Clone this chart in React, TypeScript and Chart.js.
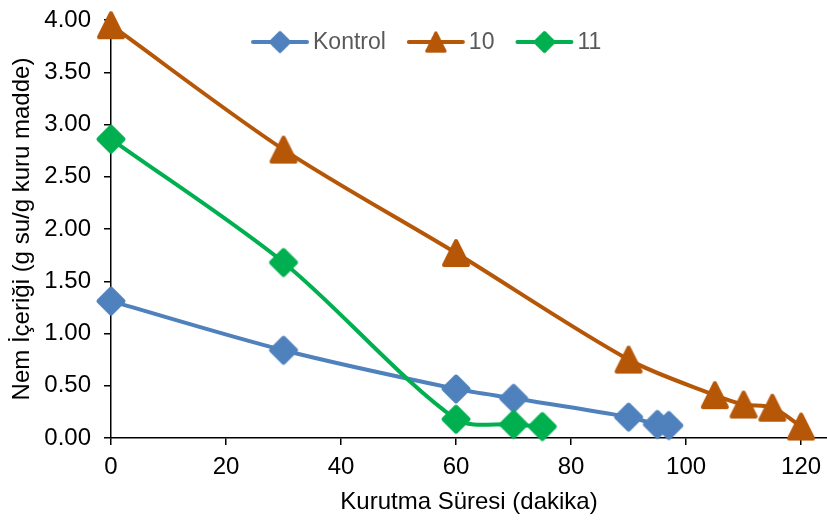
import React, { useEffect, useRef } from 'react';
import { Chart, registerables } from 'chart.js';

Chart.register(...registerables);

// ---- data ----
const kontrolX = [0, 30, 60, 70, 90, 95, 97];
const kontrolY = [1.31, 0.84, 0.47, 0.38, 0.2, 0.13, 0.12];
const s10X = [0, 30, 60, 90, 105, 110, 115, 120];
const s10Y = [3.95, 2.76, 1.77, 0.75, 0.41, 0.32, 0.29, 0.11];
const s11X = [0, 30, 60, 70, 75];
const s11Y = [2.86, 1.68, 0.18, 0.13, 0.11];
const seriesNames = ['Kontrol', '10', '11'];
const xTickValues = [0, 20, 40, 60, 80, 100, 120];
const yTickValues = [0, 0.5, 1, 1.5, 2, 2.5, 3, 3.5, 4];
const xTitle = 'Kurutma Süresi (dakika)';
const yTitle = 'Nem İçeriği (g su/g kuru madde)';

const COLORS = ['#4F81BD', '#B65708', '#00B050'];
const SHAPES = ['diamond', 'triangle', 'diamond'];
const FONT = "'Liberation Sans', Arial, sans-serif";

function makeMarker(shape: string, color: string): HTMLCanvasElement {
  const c = document.createElement('canvas');
  c.width = 32;
  c.height = 32;
  const ctx = c.getContext('2d')!;
  ctx.fillStyle = color;
  ctx.strokeStyle = color;
  ctx.lineWidth = 4;
  ctx.lineJoin = 'round';
  ctx.beginPath();
  if (shape === 'diamond') {
    ctx.moveTo(16, 3.5);
    ctx.lineTo(28.5, 16);
    ctx.lineTo(16, 28.5);
    ctx.lineTo(3.5, 16);
  } else {
    ctx.moveTo(16, 4);
    ctx.lineTo(28, 28);
    ctx.lineTo(4, 28);
  }
  ctx.closePath();
  ctx.fill();
  ctx.stroke();
  return c;
}

function toPoints(xs: number[], ys: number[]) {
  return xs.map((x, i) => ({ x, y: ys[i] }));
}

export default function App() {
  const ref = useRef<HTMLCanvasElement | null>(null);

  useEffect(() => {
    if (!ref.current) return;
    const markers = SHAPES.map((s, i) => makeMarker(s, COLORS[i]));
    const allData = [
      toPoints(kontrolX, kontrolY),
      toPoints(s10X, s10Y),
      toPoints(s11X, s11Y),
    ];

    const legendPlugin = {
      id: 'customLegend',
      afterDraw(chart: any) {
        const ctx = chart.ctx;
        const area = chart.chartArea;
        const y = area.top + 22;
        let x = area.left + 142;
        ctx.save();
        ctx.font = `23px ${FONT}`;
        ctx.textBaseline = 'middle';
        ctx.textAlign = 'left';
        seriesNames.forEach((name, i) => {
          ctx.strokeStyle = COLORS[i];
          ctx.lineWidth = 4;
          ctx.lineCap = 'round';
          ctx.beginPath();
          ctx.moveTo(x, y);
          ctx.lineTo(x + 54, y);
          ctx.stroke();
          const m = markers[i];
          const s = 0.76;
          ctx.drawImage(m, x + 27 - (m.width * s) / 2, y - (m.height * s) / 2, m.width * s, m.height * s);
          ctx.fillStyle = '#595959';
          ctx.fillText(name, x + 60, y + 1);
          x += 60 + ctx.measureText(name).width + 23;
        });
        ctx.restore();
      },
    };

    const chart = new Chart(ref.current, {
      type: 'line',
      data: {
        datasets: seriesNames.map((name, i) => ({
          label: name,
          data: allData[i],
          borderColor: COLORS[i],
          backgroundColor: COLORS[i],
          borderWidth: 4,
          tension: 0.3,
          pointStyle: markers[i] as any,
          pointRadius: 14,
          pointHoverRadius: 14,
          clip: false as any,
          order: 2 - i,
        })),
      },
      options: {
        animation: false,
        responsive: true,
        maintainAspectRatio: false,
        parsing: false as any,
        layout: { autoPadding: false, padding: { top: 20, right: 0, left: 0, bottom: 0 } },
        plugins: {
          legend: { display: false },
          tooltip: { enabled: false },
        },
        scales: {
          x: {
            type: 'linear',
            min: 0,
            max: 124.5,
            afterBuildTicks: (s: any) => {
              s.ticks = xTickValues.map((v) => ({ value: v }));
            },
            afterFit: (s: any) => {
              s.height = 83;
              s.paddingLeft = 0;
              s.paddingRight = 0;
            },
            grid: {
              drawOnChartArea: false,
              drawTicks: true,
              tickLength: 7,
              color: '#000',
              lineWidth: 1.5,
            },
            border: { color: '#000', width: 1.5 },
            ticks: {
              color: '#000',
              font: { family: FONT, size: 24 },
              padding: 8,
              maxRotation: 0,
              autoSkip: false,
            },
            title: {
              display: true,
              text: xTitle,
              color: '#000',
              font: { family: FONT, size: 24 },
              padding: { top: 0, bottom: 4 },
            },
          },
          y: {
            type: 'linear',
            min: 0,
            max: 4,
            afterBuildTicks: (s: any) => {
              s.ticks = yTickValues.map((v) => ({ value: v }));
            },
            afterFit: (s: any) => {
              s.width = 111;
              s.paddingTop = 0;
              s.paddingBottom = 0;
            },
            grid: {
              drawOnChartArea: false,
              drawTicks: true,
              tickLength: 7,
              color: '#000',
              lineWidth: 1.5,
            },
            border: { color: '#000', width: 1.5 },
            ticks: {
              color: '#000',
              font: { family: FONT, size: 24 },
              padding: 13,
              autoSkip: false,
              callback: (v: any) => Number(v).toFixed(2),
            },
            title: {
              display: true,
              text: yTitle,
              color: '#000',
              font: { family: FONT, size: 24 },
              padding: { top: 8, bottom: 0 },
            },
          },
        },
      },
      plugins: [legendPlugin],
    });

    return () => chart.destroy();
  }, []);

  return (
    <div style={{ position: 'fixed', left: 0, top: 0, width: 827, height: 521, background: '#fff' }}>
      <canvas ref={ref} />
    </div>
  );
}
